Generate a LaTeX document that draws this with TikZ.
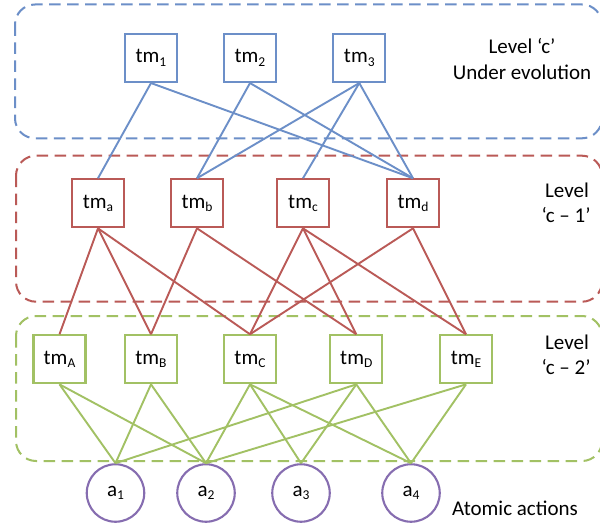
\documentclass[tikz,border=0pt]{standalone}
\usepackage{fontspec}
\setmainfont{Carlito}
\definecolor{lblue}{RGB}{108,143,200}
\definecolor{lred}{RGB}{186,90,87}
\definecolor{lgreen}{RGB}{162,193,100}
\definecolor{lpurple}{RGB}{134,109,176}
\newcommand\tmsub[1]{tm\raisebox{-3.5pt}{\fontsize{13.5}{14}\selectfont #1}}
\newcommand\asub[1]{a\raisebox{-3.5pt}{\fontsize{13.5}{14}\selectfont #1}}
\begin{document}
\begin{tikzpicture}[x=1pt,y=-1pt,
  every node/.style={font=\fontsize{21}{25}\selectfont, text=black, inner sep=0pt},
  tmbox/.style={draw, line width=2.1pt, fill=white, minimum width=52pt, minimum height=48pt},
  bluebox/.style={tmbox, draw=lblue},
  redbox/.style={tmbox, draw=lred},
  greenbox/.style={tmbox, draw=lgreen},
  atom/.style={draw=lpurple, line width=2.1pt, fill=white, circle, minimum size=57.5pt},
  level/.style={dashed, dash pattern=on 11.5pt off 6.5pt, line width=2pt, rounded corners=20pt},
  bl/.style={draw=lblue, line width=1.9pt},
  rl/.style={draw=lred, line width=1.9pt},
  gl/.style={draw=lgreen, line width=1.9pt},
  lab/.style={anchor=base}]
\useasboundingbox (0,0) rectangle (600,527);
\fill[white] (0,0) rectangle (600,527);
% level frames
\draw[level, draw=lblue] (15,4.5) rectangle (602,138.3);
\draw[level, draw=lred] (16,155.7) rectangle (602,301.7);
\draw[level, draw=lgreen] (16,316) rectangle (602,461);
% nodes level c
\node[bluebox] (t1) at (151,58) {\tmsub{1}};
\node[bluebox] (t2) at (250,58) {\tmsub{2}};
\node[bluebox] (t3) at (359.3,58) {\tmsub{3}};
% level c-1
\node[redbox] (ta) at (98,203.3) {\tmsub{a}};
\node[redbox] (tb) at (197,203.3) {\tmsub{b}};
\node[redbox] (tc) at (303,203.3) {\tmsub{c}};
\node[redbox] (td) at (413,203.3) {\tmsub{d}};
% level c-2
\node[greenbox] (tA) at (59.5,359.3) {\tmsub{A}};
\node[greenbox] (tB) at (151,359.3) {\tmsub{B}};
\node[greenbox] (tC) at (250,359.3) {\tmsub{C}};
\node[greenbox] (tD) at (356.3,359.3) {\tmsub{D}};
\node[greenbox] (tE) at (466,359.3) {\tmsub{E}};
% atomic actions
\node[atom] (a1) at (115.5,493) {\asub{1}};
\node[atom] (a2) at (206,493) {\asub{2}};
\node[atom] (a3) at (301,493) {\asub{3}};
\node[atom] (a4) at (411,493) {\asub{4}};
% connectors c -> c-1
\foreach \s/\t in {t1/ta, t1/td, t2/tb, t2/td, t3/tb, t3/tc, t3/td}
  \draw[bl] (\s.south) -- (\t.north);
% connectors c-1 -> c-2
\foreach \s/\t in {ta/tA, ta/tB, ta/tC, tb/tB, tb/tD, tc/tC, tc/tD, tc/tE, td/tC, td/tE}
  \draw[rl] (\s.south) -- (\t.north);
% connectors c-2 -> atoms
\foreach \s/\t in {tA/a1, tA/a2, tB/a1, tB/a2, tC/a2, tC/a3, tC/a4, tD/a1, tD/a3, tD/a4, tE/a2, tE/a4}
  \draw[gl] (\s.south) -- (\t.north);
% labels
\node[lab] (l1a) at (522,54) {Level ‘c’};
\node[lab] (l1b) at (522,80) {Under evolution};
\node[lab] (l2a) at (567,197.7) {Level};
\node[lab] (l2b) at (566,222.7) {‘c – 1’};
\node[lab] (l3a) at (567,349) {Level};
\node[lab] (l3b) at (566,374) {‘c – 2’};
\node[lab] (l4) at (515,515) {Atomic actions};
\end{tikzpicture}
\end{document}
